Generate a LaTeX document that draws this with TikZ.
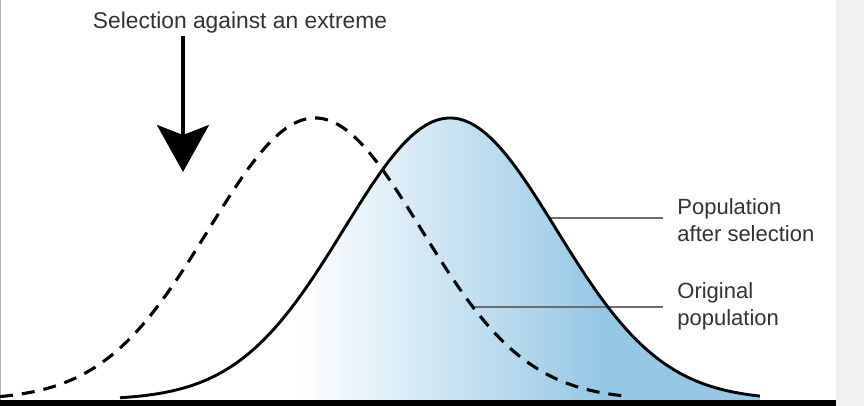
\documentclass[tikz,border=0pt]{standalone}
\usepackage{fontspec}
\setmainfont{Liberation Sans}
\usepackage{tikz}
\usetikzlibrary{arrows.meta, shadings}

\definecolor{popblue}{RGB}{150,200,230}
\definecolor{leadergray}{RGB}{110,110,110}
\definecolor{stripgray}{RGB}{240,241,243}
\definecolor{textgray}{RGB}{50,50,50}

% white on the left part of the curve, blue towards the right tail
\pgfdeclarehorizontalshading{popshade}{100bp}{color(0bp)=(white); color(39bp)=(white); color(62.5bp)=(popblue); color(100bp)=(popblue)}

\begin{document}
\begin{tikzpicture}[
    x=50pt, y=50pt,
    declare function={
        aftersel(\x)=0.06+2.82*exp(-((\x-4.5)^2)/(2*1.06^2));
        origpop(\x)=0.06+2.82*exp(-((\x-3.15)^2)/(2*1.06^2));
    },
    curvelabel/.style={
        font=\fontsize{11}{13.5}\selectfont,
        text=textgray, align=left,
        inner xsep=7pt, inner ysep=0pt
    },
    heading/.style={font=\fontsize{11.4}{13.5}\selectfont, text=textgray, inner sep=1pt},
    selarrow/.style={-{Stealth[length=23.5pt, width=26pt, inset=5pt]}, line width=1.75pt},
    leader/.style={leadergray, line width=1pt},
    aftercurve/.style={line width=1.45pt, line join=round},
    origcurve/.style={line width=1.55pt, dash pattern=on 6.5pt off 4.5pt},
]

\useasboundingbox (0,0) rectangle (8.64,4.06);

% Rahmen
\fill[stripgray] (8.36,0) rectangle (8.64,4.06);
\draw[gray!60, line width=0.5pt] (0.005,0) -- (0.005,4.06);

% Fuellung unter der neuen Kurve
\shade[shading=popshade] (1.2,0.06) -- plot[domain=1.2:7.6, samples=120] (\x,{aftersel(\x)}) -- (7.6,0.06) -- cycle;

% Punkte fuer die Hinweislinien
\coordinate (onafter) at (5.49,{aftersel(5.49)});
\coordinate (onorig)  at (4.73,{origpop(4.73)});

% Beschriftungen
\node[heading] (title) at (2.40,3.83) {Selection against an extreme};
\node[curvelabel, anchor=west] (after) at (6.63,1.855)
    {Population\\after selection};
\node[curvelabel, anchor=west] (orig)  at (6.63,0.995)
    {Original\\population};

% Hinweislinien
\draw[leader] (onafter) -- (onafter -| after.west);
\draw[leader] (onorig) -- (onorig -| orig.west);

% Kurven
\draw[origcurve] plot[domain=0:6.3, samples=120] (\x,{origpop(\x)});
\draw[aftercurve] plot[domain=1.2:7.6, samples=120] (\x,{aftersel(\x)});

% Pfeil
\coordinate (tip) at (1.83,2.34);
\draw[selarrow] (title.south -| tip) -- (tip);

% Grundlinie
\fill[black] (0,0) rectangle (8.36,0.06);

\end{tikzpicture}
\end{document}
